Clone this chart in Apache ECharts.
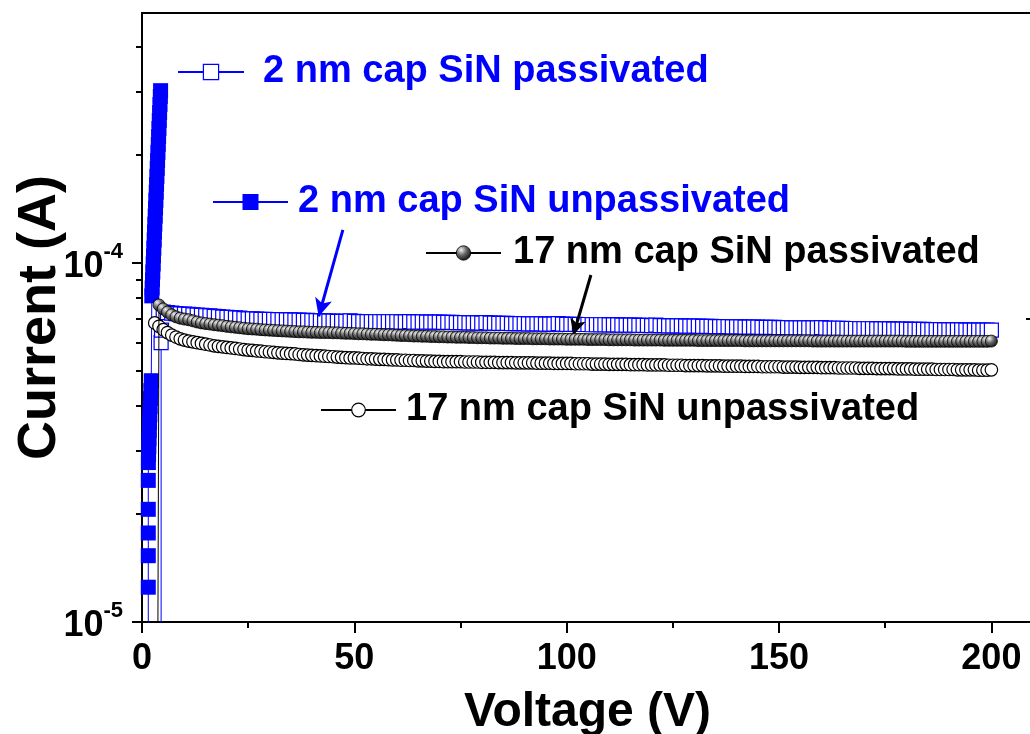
<!DOCTYPE html>
<html>
<head>
<meta charset="utf-8">
<title>Current vs Voltage</title>
<script src="https://cdn.jsdelivr.net/npm/echarts@6/dist/echarts.min.js"></script>
<style>
  html, body { margin: 0; padding: 0; background: #fff; }
  #chart { width: 1030px; height: 734px; }
</style>
</head>
<body>
<div id="chart"></div>
<script>
// voltage sweep (V)
const volts = [
  0, 1, 2, 3, 4, 5, 6, 7, 8, 9, 10, 11, 12, 13, 14, 15, 16, 17, 18, 19,
  20, 21, 22, 23, 24, 25, 26, 27, 28, 29, 30, 31, 32, 33, 34, 35, 36, 37, 38, 39,
  40, 41, 42, 43, 44, 45, 46, 47, 48, 49, 50, 51, 52, 53, 54, 55, 56, 57, 58, 59,
  60, 61, 62, 63, 64, 65, 66, 67, 68, 69, 70, 71, 72, 73, 74, 75, 76, 77, 78, 79,
  80, 81, 82, 83, 84, 85, 86, 87, 88, 89, 90, 91, 92, 93, 94, 95, 96, 97, 98, 99,
  100, 101, 102, 103, 104, 105, 106, 107, 108, 109, 110, 111, 112, 113, 114, 115, 116, 117, 118, 119,
  120, 121, 122, 123, 124, 125, 126, 127, 128, 129, 130, 131, 132, 133, 134, 135, 136, 137, 138, 139,
  140, 141, 142, 143, 144, 145, 146, 147, 148, 149, 150, 151, 152, 153, 154, 155, 156, 157, 158, 159,
  160, 161, 162, 163, 164, 165, 166, 167, 168, 169, 170, 171, 172, 173, 174, 175, 176, 177, 178, 179,
  180, 181, 182, 183, 184, 185, 186, 187, 188, 189, 190, 191, 192, 193, 194, 195, 196, 197, 198, 199,
  200
];

// all currents below are in units of 1e-5 A

// 2 nm cap SiN unpassivated (filled squares), breaks down near 4 V
const v2u = [
  1.48, 1.48, 1.48, 1.48, 1.48, 1.48,
  1.50, 1.55, 1.60, 1.65, 1.72, 1.78, 1.85, 1.92, 2.00, 2.08, 2.18,
  2.31, 2.39, 2.47, 2.55, 2.63, 2.71, 2.79, 2.87, 2.95, 3.03, 3.11, 3.19, 3.27, 3.35,
  3.43, 3.51, 3.59, 3.67, 3.75, 3.83, 3.91, 3.99, 4.07, 4.15, 4.23, 4.31, 4.38
];
const i2u = [
  0.3, 1.25, 1.53, 1.77, 2.06, 2.48,
  2.78, 2.93, 3.08, 3.24, 3.41, 3.59, 3.78, 3.98, 4.19, 4.41, 4.70,
  8.10, 8.52, 8.97, 9.44, 9.94, 10.46, 11.0, 11.59, 12.2, 12.83, 13.51, 14.22, 14.96, 15.75,
  16.57, 17.44, 18.36, 19.32, 20.33, 21.4, 22.5, 23.7, 24.95, 26.26, 27.64, 29.1, 30.2
];

// 2 nm cap SiN passivated (open squares)
const v2pLead = [4.5, 4.5, 4.6];
const i2pLead = [0.3, 6.0, 6.5];
// from 5 V to 200 V
const i2p = [
  7.30, 7.27, 7.25, 7.23, 7.21, 7.20, 7.19, 7.17, 7.16, 7.15,
  7.13, 7.12, 7.10, 7.09, 7.07, 7.06, 7.05, 7.03, 7.02, 7.00,
  6.99, 6.99, 6.98, 6.97, 6.97, 6.96, 6.96, 6.95, 6.95, 6.94,
  6.94, 6.93, 6.93, 6.92, 6.92, 6.91, 6.91, 6.90, 6.90, 6.89,
  6.89, 6.88, 6.88, 6.88, 6.90, 6.88, 6.87, 6.87, 6.87, 6.87,
  6.86, 6.86, 6.86, 6.86, 6.86, 6.86, 6.85, 6.85, 6.87, 6.85,
  6.85, 6.85, 6.84, 6.84, 6.84, 6.84, 6.83, 6.83, 6.83, 6.82,
  6.82, 6.82, 6.81, 6.81, 6.81, 6.80, 6.82, 6.80, 6.80, 6.79,
  6.79, 6.79, 6.78, 6.78, 6.78, 6.78, 6.77, 6.77, 6.77, 6.77,
  6.76, 6.76, 6.76, 6.78, 6.76, 6.75, 6.75, 6.75, 6.74, 6.74,
  6.74, 6.73, 6.73, 6.73, 6.73, 6.72, 6.72, 6.72, 6.71, 6.71,
  6.71, 6.71, 6.70, 6.70, 6.70, 6.69, 6.71, 6.69, 6.69, 6.68,
  6.68, 6.68, 6.68, 6.67, 6.67, 6.67, 6.67, 6.66, 6.66, 6.66,
  6.65, 6.65, 6.65, 6.65, 6.64, 6.64, 6.64, 6.63, 6.63, 6.63,
  6.63, 6.62, 6.62, 6.62, 6.62, 6.61, 6.61, 6.61, 6.60, 6.60,
  6.60, 6.60, 6.59, 6.59, 6.59, 6.61, 6.59, 6.58, 6.58, 6.58,
  6.58, 6.57, 6.57, 6.57, 6.56, 6.56, 6.56, 6.56, 6.55, 6.55,
  6.55, 6.55, 6.54, 6.54, 6.54, 6.54, 6.53, 6.53, 6.53, 6.53,
  6.52, 6.52, 6.52, 6.52, 6.51, 6.51, 6.51, 6.51, 6.51, 6.50,
  6.50, 6.50, 6.50, 6.50, 6.50, 6.50
];

// 17 nm cap SiN passivated (shaded balls)
const v17pLead = [3.6];
const i17pLead = [0.3];
// from 4 V to 200 V
const i17p = [
  7.64, 7.45, 7.30, 7.17, 7.08, 7.02, 6.98, 6.95, 6.90, 6.85,
  6.81, 6.78, 6.76, 6.73, 6.71, 6.69, 6.66, 6.64, 6.62, 6.60,
  6.58, 6.56, 6.55, 6.54, 6.52, 6.51, 6.50, 6.49, 6.48, 6.47,
  6.46, 6.45, 6.44, 6.43, 6.43, 6.42, 6.41, 6.41, 6.40, 6.40,
  6.40, 6.39, 6.39, 6.38, 6.37, 6.37, 6.36, 6.35, 6.35, 6.34,
  6.33, 6.33, 6.32, 6.31, 6.31, 6.30, 6.29, 6.28, 6.28, 6.27,
  6.26, 6.26, 6.25, 6.25, 6.24, 6.24, 6.23, 6.23, 6.22, 6.22,
  6.21, 6.21, 6.21, 6.20, 6.20, 6.19, 6.19, 6.19, 6.18, 6.18,
  6.18, 6.17, 6.17, 6.17, 6.16, 6.16, 6.16, 6.16, 6.15, 6.15,
  6.15, 6.15, 6.14, 6.14, 6.14, 6.14, 6.13, 6.13, 6.13, 6.13,
  6.13, 6.12, 6.12, 6.12, 6.12, 6.12, 6.11, 6.11, 6.11, 6.11,
  6.11, 6.11, 6.10, 6.10, 6.10, 6.10, 6.10, 6.10, 6.10, 6.09,
  6.09, 6.09, 6.09, 6.09, 6.09, 6.09, 6.09, 6.08, 6.08, 6.08,
  6.08, 6.08, 6.08, 6.08, 6.08, 6.08, 6.08, 6.08, 6.07, 6.07,
  6.07, 6.07, 6.07, 6.07, 6.07, 6.07, 6.07, 6.07, 6.07, 6.07,
  6.07, 6.07, 6.07, 6.07, 6.06, 6.06, 6.06, 6.06, 6.06, 6.06,
  6.06, 6.06, 6.06, 6.06, 6.06, 6.06, 6.06, 6.06, 6.06, 6.06,
  6.06, 6.06, 6.06, 6.06, 6.06, 6.06, 6.05, 6.05, 6.05, 6.05,
  6.05, 6.05, 6.05, 6.05, 6.05, 6.05, 6.05, 6.05, 6.05, 6.05,
  6.05, 6.05, 6.05, 6.05, 6.05, 6.05, 6.06
];

// 17 nm cap SiN unpassivated (open circles), from 3 V to 200 V
const i17u = [
  6.81, 6.66, 6.52, 6.40, 6.30, 6.22, 6.15, 6.10, 6.06, 6.03,
  6.00, 5.97, 5.94, 5.91, 5.88, 5.86, 5.84, 5.82, 5.80, 5.78,
  5.76, 5.74, 5.72, 5.71, 5.69, 5.68, 5.66, 5.65, 5.64, 5.62,
  5.61, 5.60, 5.59, 5.58, 5.56, 5.55, 5.54, 5.53, 5.52, 5.51,
  5.50, 5.49, 5.48, 5.47, 5.46, 5.45, 5.44, 5.44, 5.43, 5.42,
  5.41, 5.41, 5.40, 5.39, 5.39, 5.38, 5.37, 5.37, 5.36, 5.36,
  5.35, 5.35, 5.34, 5.34, 5.33, 5.33, 5.32, 5.32, 5.31, 5.31,
  5.31, 5.31, 5.31, 5.30, 5.30, 5.30, 5.30, 5.29, 5.29, 5.29,
  5.29, 5.28, 5.28, 5.28, 5.28, 5.27, 5.27, 5.27, 5.27, 5.27,
  5.26, 5.26, 5.26, 5.26, 5.25, 5.25, 5.25, 5.25, 5.25, 5.24,
  5.24, 5.24, 5.24, 5.23, 5.23, 5.23, 5.23, 5.22, 5.22, 5.22,
  5.22, 5.22, 5.21, 5.21, 5.21, 5.21, 5.20, 5.20, 5.20, 5.20,
  5.20, 5.19, 5.19, 5.19, 5.19, 5.18, 5.18, 5.18, 5.18, 5.18,
  5.17, 5.17, 5.17, 5.17, 5.16, 5.16, 5.16, 5.16, 5.16, 5.15,
  5.15, 5.15, 5.15, 5.14, 5.14, 5.14, 5.14, 5.14, 5.13, 5.13,
  5.13, 5.13, 5.12, 5.12, 5.12, 5.12, 5.12, 5.11, 5.11, 5.11,
  5.11, 5.10, 5.10, 5.10, 5.10, 5.10, 5.09, 5.09, 5.09, 5.09,
  5.08, 5.08, 5.08, 5.08, 5.08, 5.07, 5.07, 5.07, 5.07, 5.06,
  5.06, 5.06, 5.06, 5.06, 5.05, 5.05, 5.05, 5.05, 5.05, 5.04,
  5.04, 5.04, 5.04, 5.04, 5.03, 5.03, 5.03, 5.04
];

const names = [
  '2 nm cap SiN passivated',
  '2 nm cap SiN unpassivated',
  '17 nm cap SiN passivated',
  '17 nm cap SiN unpassivated'
];

// y ticks
const majorTicks = [1e-5, 1e-4];
const minorTicks = [2e-5, 3e-5, 4e-5, 5e-5, 6e-5, 7e-5, 8e-5, 9e-5, 2e-4, 3e-4, 4e-4];
const rightTicks = [7e-5];

// annotation arrows [V, A]
const arrowBlue = [[47.3, 1.236e-4], [41.6, 7.1e-5]];
const arrowBlack = [[105.7, 9.26e-5], [101.6, 6.31e-5]];

const UNIT = 1e-5;
const pairs = (xs, ys) => ys.map((c, k) => [xs[k], c * UNIT]);
const sweep = (start, ys) => ys.map((c, k) => [volts[start + k], c * UNIT]);

const BLUE = '#0000ff';
const FONT = '"Liberation Sans", Arial, sans-serif';
const Y_MIN = 1e-5, Y_MAX = 4.97e-4;
const X_MAX = 209.8;

const chart = echarts.init(document.getElementById('chart'));

const legendText = (color, pad) => ({
  color: color, fontSize: 38, fontWeight: 'bold', fontFamily: FONT, padding: [0, 0, 0, pad]
});
const tickStyle = { color: '#000', width: 2 };

const option = {
  animation: false,
  backgroundColor: '#fff',
  grid: { left: 142, top: 13, width: 891, height: 609, outerBoundsMode: 'none', containLabel: false },
  xAxis: [{
    type: 'value', min: 0, max: X_MAX, interval: 50, position: 'bottom',
    name: 'Voltage (V)', nameLocation: 'middle', nameGap: 67, nameMoveOverlap: false,
    nameTextStyle: { fontSize: 48, fontWeight: 'bold', color: '#000', fontFamily: FONT },
    axisLine: { lineStyle: tickStyle },
    axisTick: { length: 11, lineStyle: tickStyle },
    minorTick: { show: true, splitNumber: 2, length: 6, lineStyle: tickStyle },
    axisLabel: { fontSize: 36, fontWeight: 'bold', color: '#000', fontFamily: FONT, margin: 19, showMaxLabel: false },
    splitLine: { show: false }
  }, {
    type: 'value', min: 0, max: X_MAX, position: 'top',
    axisLine: { lineStyle: tickStyle },
    axisTick: { show: false }, axisLabel: { show: false }, splitLine: { show: false }
  }],
  yAxis: [{
    type: 'log', min: Y_MIN, max: Y_MAX, position: 'left',
    name: 'Current (A)', nameLocation: 'middle', nameGap: 75, nameRotate: 90, nameMoveOverlap: false,
    nameTextStyle: { fontSize: 54, fontWeight: 'bold', color: '#000', fontFamily: FONT },
    axisLine: { lineStyle: tickStyle },
    axisTick: { customValues: majorTicks, length: 10, lineStyle: tickStyle },
    axisLabel: {
      customValues: majorTicks, margin: 19, fontFamily: FONT,
      formatter: v => '{b|10}{s|' + Math.round(Math.log10(v)) + '}',
      rich: {
        b: { fontSize: 36, fontWeight: 'bold', color: '#000', fontFamily: FONT, lineHeight: 44, verticalAlign: 'bottom' },
        s: { fontSize: 22, fontWeight: 'bold', color: '#000', fontFamily: FONT, lineHeight: 22, verticalAlign: 'top' }
      }
    },
    splitLine: { show: false }
  }, {
    // second left axis, only for the shorter minor ticks
    type: 'log', min: Y_MIN, max: Y_MAX, position: 'left',
    axisLine: { show: false },
    axisTick: { customValues: minorTicks, inside: false, length: 6, lineStyle: tickStyle },
    axisLabel: { show: false },
    splitLine: { show: false }
  }, {
    // right frame, just past the page edge
    type: 'log', min: Y_MIN, max: Y_MAX, position: 'right',
    axisLine: { lineStyle: tickStyle },
    axisTick: { customValues: rightTicks, inside: true, length: 7, lineStyle: tickStyle },
    axisLabel: { show: false },
    splitLine: { show: false }
  }],
  legend: [
    { data: [names[0]], left: 177, top: 53, padding: 0, selectedMode: false, itemWidth: 66, itemHeight: 19,
      itemStyle: { borderWidth: 1.2 }, textStyle: legendText(BLUE, 14) },
    { data: [names[1]], left: 212, top: 183, padding: 0, selectedMode: false, itemWidth: 75, itemHeight: 20,
      textStyle: legendText(BLUE, 5) },
    { data: [names[2]], left: 425, top: 234, padding: 0, selectedMode: false, itemWidth: 75, itemHeight: 18,
      itemStyle: { borderWidth: 0.8 }, textStyle: legendText('#000', 7) },
    { data: [names[3]], left: 320, top: 391, padding: 0, selectedMode: false, itemWidth: 75, itemHeight: 17,
      itemStyle: { borderWidth: 1.2 }, textStyle: legendText('#000', 5) }
  ],
  series: [{
    name: names[1], type: 'line', xAxisIndex: 0, yAxisIndex: 0,
    data: pairs(v2u, i2u),
    symbol: 'rect', symbolSize: 15,
    itemStyle: { color: BLUE },
    lineStyle: { color: BLUE, width: 1 },
    z: 2
  }, {
    name: names[0], type: 'line', xAxisIndex: 0, yAxisIndex: 0,
    data: pairs(v2pLead, i2pLead).concat(sweep(5, i2p)),
    symbol: 'rect', symbolSize: 14,
    itemStyle: { color: '#fff', borderColor: BLUE, borderWidth: 1.2 },
    lineStyle: { color: BLUE, width: 1 },
    markLine: {
      silent: true, symbol: ['none', 'arrow'], symbolSize: [13, 18],
      label: { show: false },
      lineStyle: { color: BLUE, width: 3, type: 'solid' },
      data: [[{ coord: arrowBlue[0] }, { coord: arrowBlue[1] }]]
    },
    z: 3
  }, {
    name: names[3], type: 'line', xAxisIndex: 0, yAxisIndex: 0,
    data: sweep(3, i17u),
    symbol: 'circle', symbolSize: 12.5,
    itemStyle: { color: '#fff', borderColor: '#000', borderWidth: 1.2 },
    lineStyle: { color: '#000', width: 1 },
    z: 4
  }, {
    name: names[2], type: 'line', xAxisIndex: 0, yAxisIndex: 0,
    data: pairs(v17pLead, i17pLead).concat(sweep(4, i17p)),
    symbol: 'circle', symbolSize: 12,
    itemStyle: {
      color: new echarts.graphic.RadialGradient(0.35, 0.3, 0.75, [
        { offset: 0, color: '#f2f2f2' },
        { offset: 0.45, color: '#6a6a6a' },
        { offset: 1, color: '#0a0a0a' }
      ]),
      borderColor: '#000', borderWidth: 0.8
    },
    lineStyle: { color: '#000', width: 1 },
    markLine: {
      silent: true, symbol: ['none', 'arrow'], symbolSize: [12, 16],
      label: { show: false },
      lineStyle: { color: '#000', width: 3, type: 'solid' },
      data: [[{ coord: arrowBlack[0] }, { coord: arrowBlack[1] }]]
    },
    z: 5
  }]
};

chart.setOption(option);
</script>
</body>
</html>
